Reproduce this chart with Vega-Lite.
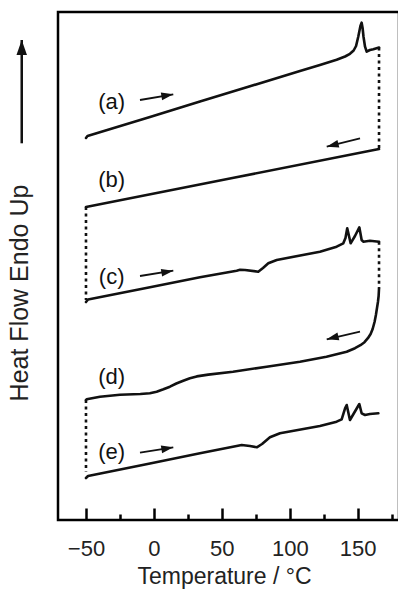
{
  "$schema": "https://vega.github.io/schema/vega-lite/v6.json",
  "width": 341,
  "height": 508,
  "autosize": "none",
  "padding": {"left": 58, "top": 12, "right": 0, "bottom": 72},
  "config": {
    "view": {"stroke": "black", "strokeWidth": 2.5},
    "font": "Liberation Sans",
    "axisY": {"grid": false, "labels": false, "ticks": false, "domain": false}
  },
  "datasets": {
    "curves": [
      {"c": "a", "T": -50, "v": 382}, {"c": "a", "T": -48.9, "v": 384}, {"c": "a", "T": -2.9, "v": 403.1}, {"c": "a", "T": 33.9, "v": 418.4}, {"c": "a", "T": 70.7, "v": 433.7}, {"c": "a", "T": 107.5, "v": 449.0}, {"c": "a", "T": 122.2, "v": 455.1}, {"c": "a", "T": 134.5, "v": 460.2}, {"c": "a", "T": 140.7, "v": 463.5}, {"c": "a", "T": 144.3, "v": 466.2}, {"c": "a", "T": 147.0, "v": 469.5}, {"c": "a", "T": 148.8, "v": 474}, {"c": "a", "T": 150.4, "v": 483.3}, {"c": "a", "T": 152.0, "v": 494}, {"c": "a", "T": 152.9, "v": 497.3}, {"c": "a", "T": 153.6, "v": 492}, {"c": "a", "T": 154.3, "v": 483}, {"c": "a", "T": 155.4, "v": 473.3}, {"c": "a", "T": 156.6, "v": 468.3}, {"c": "a", "T": 159.0, "v": 470}, {"c": "a", "T": 161.5, "v": 470.7}, {"c": "a", "T": 165.7, "v": 472.5},
      {"c": "b", "T": -50, "v": 313}, {"c": "b", "T": 57.8, "v": 342}, {"c": "b", "T": 165.7, "v": 371},
      {"c": "c", "T": -50, "v": 218}, {"c": "c", "T": -48.5, "v": 220.5}, {"c": "c", "T": -2.9, "v": 232.8}, {"c": "c", "T": 33.9, "v": 242.7}, {"c": "c", "T": 60.9, "v": 249.3}, {"c": "c", "T": 63.4, "v": 250.2}, {"c": "c", "T": 67.0, "v": 250}, {"c": "c", "T": 76.8, "v": 248.3}, {"c": "c", "T": 80.3, "v": 252}, {"c": "c", "T": 84.2, "v": 256.7}, {"c": "c", "T": 90.4, "v": 260}, {"c": "c", "T": 122.2, "v": 268.3}, {"c": "c", "T": 134.5, "v": 273.3}, {"c": "c", "T": 139.4, "v": 276.7}, {"c": "c", "T": 141.0, "v": 282}, {"c": "c", "T": 142.3, "v": 291.7}, {"c": "c", "T": 144.8, "v": 276.7}, {"c": "c", "T": 148.0, "v": 284}, {"c": "c", "T": 151.2, "v": 292.7}, {"c": "c", "T": 152.9, "v": 280}, {"c": "c", "T": 154.1, "v": 278.3}, {"c": "c", "T": 159.0, "v": 279.3}, {"c": "c", "T": 165.7, "v": 278.3},
      {"c": "d", "T": -50, "v": 120}, {"c": "d", "T": -49.5, "v": 120.7}, {"c": "d", "T": -39.7, "v": 123.3}, {"c": "d", "T": -25.0, "v": 125.3}, {"c": "d", "T": -10.0, "v": 126}, {"c": "d", "T": -3.0, "v": 126.7}, {"c": "d", "T": 2.0, "v": 128.3}, {"c": "d", "T": 7.0, "v": 130.7}, {"c": "d", "T": 11.8, "v": 133.3}, {"c": "d", "T": 16.5, "v": 136.5}, {"c": "d", "T": 21.6, "v": 139.3}, {"c": "d", "T": 26.5, "v": 141.8}, {"c": "d", "T": 31.5, "v": 143.6}, {"c": "d", "T": 40.0, "v": 145.4}, {"c": "d", "T": 58.2, "v": 148.3}, {"c": "d", "T": 83.0, "v": 153.3}, {"c": "d", "T": 107.5, "v": 158.3}, {"c": "d", "T": 127.0, "v": 163.2}, {"c": "d", "T": 141.9, "v": 168.3}, {"c": "d", "T": 148.0, "v": 171.8}, {"c": "d", "T": 152.0, "v": 174.8}, {"c": "d", "T": 155.0, "v": 177.8}, {"c": "d", "T": 157.5, "v": 181.8}, {"c": "d", "T": 159.5, "v": 186}, {"c": "d", "T": 161.0, "v": 191}, {"c": "d", "T": 162.4, "v": 198}, {"c": "d", "T": 163.4, "v": 205}, {"c": "d", "T": 164.2, "v": 212}, {"c": "d", "T": 164.9, "v": 218}, {"c": "d", "T": 165.4, "v": 224}, {"c": "d", "T": 165.7, "v": 231.7},
      {"c": "e", "T": -50, "v": 42}, {"c": "e", "T": -48.5, "v": 44}, {"c": "e", "T": -2.9, "v": 56.6}, {"c": "e", "T": 33.9, "v": 66.7}, {"c": "e", "T": 60.9, "v": 74}, {"c": "e", "T": 64.6, "v": 75}, {"c": "e", "T": 70.7, "v": 74}, {"c": "e", "T": 75.7, "v": 72.7}, {"c": "e", "T": 79.6, "v": 76}, {"c": "e", "T": 85.4, "v": 82.7}, {"c": "e", "T": 92.8, "v": 86.7}, {"c": "e", "T": 122.2, "v": 94}, {"c": "e", "T": 134.5, "v": 98.3}, {"c": "e", "T": 138.2, "v": 100.7}, {"c": "e", "T": 140.7, "v": 111.7}, {"c": "e", "T": 141.9, "v": 115}, {"c": "e", "T": 144.3, "v": 100}, {"c": "e", "T": 151.2, "v": 116}, {"c": "e", "T": 152.9, "v": 106.7}, {"c": "e", "T": 155.4, "v": 105}, {"c": "e", "T": 159.0, "v": 106}, {"c": "e", "T": 165.2, "v": 106.7}
    ],
    "jumps": [
      {"j": "ab", "T": 165.7, "v": 472.5}, {"j": "ab", "T": 165.7, "v": 371},
      {"j": "bc", "T": -50, "v": 313}, {"j": "bc", "T": -50, "v": 220},
      {"j": "cd", "T": 165.7, "v": 278.3}, {"j": "cd", "T": 165.7, "v": 231.7},
      {"j": "de", "T": -50, "v": 120}, {"j": "de", "T": -50, "v": 48}
    ],
    "labels": [
      {"label": "(a)", "T": -31.1, "v": 418.3},
      {"label": "(b)", "T": -31.1, "v": 340},
      {"label": "(c)", "T": -31.1, "v": 243.3},
      {"label": "(d)", "T": -31.1, "v": 143.3},
      {"label": "(e)", "T": -31.1, "v": 68.3}
    ],
    "arrows": [
      {"id": "a", "dir": "right", "T1": -10.25, "v1": 420, "T2": 14.26, "v2": 425.7},
      {"id": "c", "dir": "right", "T1": -10.25, "v1": 244, "T2": 14.26, "v2": 249.3},
      {"id": "e", "dir": "right", "T1": -10.25, "v1": 67.3, "T2": 14.26, "v2": 72.7},
      {"id": "b", "dir": "left", "T1": 151.7, "v1": 381.7, "T2": 127.2, "v2": 373.3},
      {"id": "d", "dir": "left", "T1": 151.7, "v1": 188.3, "T2": 127.2, "v2": 180.7}
    ],
    "yarrow": [
      {"T1": -97.3, "v1": 376.7, "T2": -97.3, "v2": 480}
    ]
  },
  "resolve": {"axis": {"x": "independent"}},
  "layer": [
    {
      "data": {"name": "curves"},
      "mark": {"type": "line", "color": "#111", "interpolate": "linear", "strokeJoin": "round", "strokeCap": "round"},
      "encoding": {
        "x": {"field": "T", "type": "quantitative", "scale": {"domain": [-70.6, 180.4], "nice": false, "zero": false},
          "axis": {"orient": "bottom", "values": [-50, 0, 50, 100, 150], "domain": false, "grid": false, "tickSize": -12, "tickWidth": 2.5, "tickColor": "black",
            "labelFontSize": 22, "labelFont": "Liberation Sans", "labelColor": "#222", "labelBaseline": "alphabetic", "labelPadding": 47.5,
            "title": "Temperature / °C", "titleFontSize": 23, "titleFont": "Liberation Sans", "titleFontWeight": "normal", "titleColor": "#222",
            "titleBaseline": "alphabetic", "titleX": 166, "titleY": 63}},
        "y": {"field": "v", "type": "quantitative", "scale": {"domain": [0, 508], "nice": false, "zero": false},
          "axis": {"grid": false, "labels": false, "ticks": false, "domain": false,
            "title": "Heat Flow Endo Up", "titleFontSize": 25, "titleFont": "Liberation Sans",
            "titleFontWeight": "normal", "titleColor": "#222", "titleAngle": 270, "titleBaseline": "alphabetic", "titleX": -31, "titleY": 280.5}},
        "detail": {"field": "c"},
        "strokeWidth": {"field": "c", "type": "nominal", "scale": {"domain": ["a", "b", "c", "d", "e"], "range": [2.6, 2.6, 2.6, 1.8, 2.6]}, "legend": null}
      }
    },
    {
      "data": {"name": "jumps"},
      "mark": {"type": "line", "color": "#111", "strokeWidth": 2.6, "strokeDash": [3, 3.5]},
      "encoding": {
        "x": {"field": "T", "type": "quantitative",
          "axis": {"orient": "bottom", "values": [-25, 25, 75, 125, 175], "domain": false, "labels": false, "grid": false, "tickSize": -6, "tickWidth": 2.5, "tickColor": "black", "title": null}},
        "y": {"field": "v", "type": "quantitative"},
        "detail": {"field": "j"}
      }
    },
    {
      "data": {"name": "labels"},
      "mark": {"type": "text", "font": "Liberation Sans", "fontSize": 22, "color": "#111", "align": "center", "baseline": "middle"},
      "encoding": {
        "x": {"field": "T", "type": "quantitative", "axis": null},
        "y": {"field": "v", "type": "quantitative"},
        "text": {"field": "label"}
      }
    },
    {
      "data": {"name": "arrows"},
      "mark": {"type": "rule", "color": "#111", "strokeWidth": 1.8},
      "encoding": {
        "x": {"field": "T1", "type": "quantitative", "axis": null},
        "x2": {"field": "T2"},
        "y": {"field": "v1", "type": "quantitative"},
        "y2": {"field": "v2"}
      }
    },
    {
      "data": {"name": "arrows"},
      "mark": {"type": "point", "filled": true, "color": "#111", "opacity": 1, "size": 144, "shape": "M0,0L-2,-0.65L-2,0.65Z"},
      "encoding": {
        "x": {"field": "T2", "type": "quantitative", "axis": null},
        "y": {"field": "v2", "type": "quantitative"},
        "angle": {"field": "dir", "type": "nominal", "scale": {"domain": ["right", "left"], "range": [350.3, 166]}, "legend": null}
      }
    },
    {
      "data": {"name": "yarrow"},
      "mark": {"type": "rule", "color": "#111", "strokeWidth": 2.5},
      "encoding": {
        "x": {"field": "T1", "type": "quantitative", "axis": null},
        "x2": {"field": "T2"},
        "y": {"field": "v1", "type": "quantitative"},
        "y2": {"field": "v2"}
      }
    },
    {
      "data": {"name": "yarrow"},
      "mark": {"type": "point", "filled": true, "color": "#111", "opacity": 1, "size": 225, "angle": 270, "shape": "M0,0L-2,-0.7L-2,0.7Z"},
      "encoding": {
        "x": {"field": "T2", "type": "quantitative", "axis": null},
        "y": {"field": "v2", "type": "quantitative"}
      }
    }
  ]
}
